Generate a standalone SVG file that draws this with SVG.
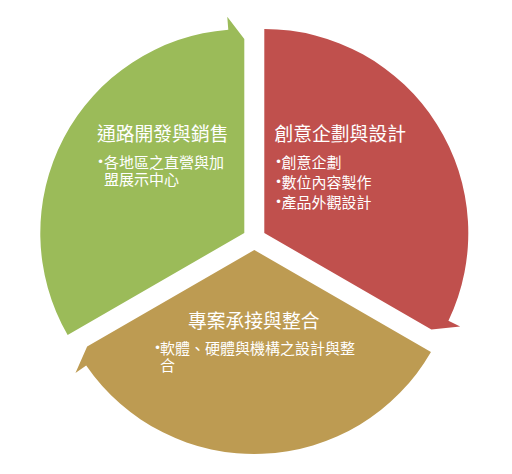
<svg xmlns="http://www.w3.org/2000/svg" width="512" height="474" viewBox="0 0 512 474">
<style>
.title{font-family:"Noto Sans CJK TC","Noto Sans CJK SC",sans-serif;font-size:18.8px;fill:#ffffff;}
.body{font-family:"Noto Sans CJK TC","Noto Sans CJK SC",sans-serif;font-size:15px;fill:#ffffff;}
.bul{font-family:"DejaVu Sans",sans-serif;font-size:12px;}
</style>
<rect width="512" height="474" fill="#ffffff"/>
<g id="node-channel">
<path d="M244.3,233 L67.63,335 A204,204 0 0 1 228.29,29.63 L227.27,16.67 L244.3,39 Z" fill="#9BBB59"/>
<text class="title" x="97" y="141">通路開發與銷售</text>
<text class="body" y="167.5"><tspan class="bul" x="97" dy="-2">•</tspan><tspan x="104" y="167.5">各地區之直營與加</tspan><tspan x="104" y="184.5">盟展示中心</tspan></text>
</g>
<g id="node-design">
<path d="M264.3,233 L264.3,29 A204,204 0 0 1 448.43,320.82 L460.16,326.42 L431.4,329.5 Z" fill="#C0504D"/>
<text class="title" x="274.5" y="141">創意企劃與設計</text>
<text class="body"><tspan class="bul" x="275" y="165.5">•</tspan><tspan x="281.5" y="167.5">創意企劃</tspan><tspan class="bul" x="275" y="185.5">•</tspan><tspan x="281.5" y="187.5">數位內容製作</tspan><tspan class="bul" x="275" y="205.5">•</tspan><tspan x="281.5" y="207.5">產品外觀設計</tspan></text>
</g>
<g id="node-project">
<path d="M254.3,250 L430.97,352 A204,204 0 0 1 86.18,365.55 L75.46,372.91 L87.16,346.5 Z" fill="#BD9B52"/>
<text class="title" x="188" y="327.5">專案承接與整合</text>
<text class="body"><tspan class="bul" x="154" y="352">•</tspan><tspan x="160" y="354">軟體、硬體與機構之設計與整</tspan><tspan x="160" y="371">合</tspan></text>
</g>
</svg>
